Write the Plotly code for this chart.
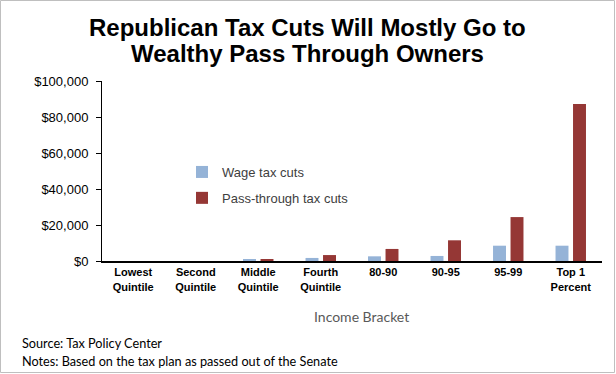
import plotly.graph_objects as go

categories = ["Lowest<br>Quintile", "Second<br>Quintile", "Middle<br>Quintile", "Fourth<br>Quintile",
              "80-90", "90-95", "95-99", "Top 1<br>Percent"]
wage_cuts = [0, 0, 900, 1700, 2600, 2800, 8500, 8500]
pass_through_cuts = [0, 0, 1100, 3300, 6700, 11500, 24400, 87200]
y_tickvals = [0, 20000, 40000, 60000, 80000, 100000]
y_ticktext = ["$0", "$20,000", "$40,000", "$60,000", "$80,000", "$100,000"]

W, H = 616, 374
L, R, T, B = 102, 14, 81, 113
pw, ph = W - L - R, H - T - B

def px_x(px):
    return (px - L) / pw

def px_y(py):
    return (H - B - py) / ph

fig = go.Figure()
fig.add_trace(go.Bar(x=categories, y=wage_cuts, name="Wage tax cuts", legendgroup="w",
                     marker=dict(color="#95B3D7", line=dict(width=0))))
fig.add_trace(go.Bar(x=categories, y=pass_through_cuts, name="Pass-through tax cuts", legendgroup="p",
                     marker=dict(color="#953735", line=dict(width=0))))

fig.update_layout(
    width=W, height=H,
    margin=dict(l=L, r=R, t=T, b=B),
    paper_bgcolor="white", plot_bgcolor="white",
    barmode="group", bargap=0.44, bargroupgap=0.26,
    showlegend=True,
    legend=dict(x=px_x(182), y=px_y(157), xanchor="left", yanchor="top",
                traceorder="grouped", tracegroupgap=6,
                font=dict(family="Liberation Sans", size=13, color="#404040"),
                bgcolor="rgba(0,0,0,0)"),
    xaxis=dict(tickvals=categories,
               ticktext=["<b>" + c + "</b>" for c in categories],
               tickfont=dict(family="Liberation Sans", size=11, color="black"),
               showline=True, linecolor="black", linewidth=2, ticks="",
               showgrid=False, zeroline=False, fixedrange=True),
    yaxis=dict(range=[0, 100000], tickvals=y_tickvals, ticktext=y_ticktext,
               tickfont=dict(family="Liberation Sans", size=13, color="black"),
               showline=True, linecolor="black", linewidth=1,
               ticks="outside", ticklen=5, tickcolor="black",
               ticklabelstandoff=5,
               showgrid=False, zeroline=False, fixedrange=True),
    font=dict(family="Liberation Sans"),
)

annos = [
    dict(text="<b>Republican Tax Cuts Will Mostly Go to</b>", x=px_x(307), y=px_y(28),
         font=dict(family="Liberation Sans", size=24, color="black")),
    dict(text="<b>Wealthy Pass Through Owners</b>", x=px_x(307), y=px_y(53.5),
         font=dict(family="Liberation Sans", size=24, color="black")),
    dict(text="Income Bracket", x=px_x(361), y=px_y(316),
         font=dict(family="Lato", size=14, color="#595959")),
]
for a in annos:
    fig.add_annotation(xref="paper", yref="paper", showarrow=False,
                       xanchor="center", yanchor="middle", **a)
for txt, py in [("Source: Tax Policy Center", 343),
                ("Notes: Based on the tax plan as passed out of the Senate", 361)]:
    fig.add_annotation(xref="paper", yref="paper", showarrow=False, text=txt,
                       x=px_x(20), y=px_y(py), xanchor="left", yanchor="middle",
                       font=dict(family="Lato", size=12.7, color="black"))

fig.add_shape(type="rect", xref="paper", yref="paper",
              x0=px_x(0.5), x1=px_x(614.5), y0=px_y(372.5), y1=px_y(0.5),
              line=dict(color="#BFBFBF", width=1), layer="below")

fig.write_html("out.html", config={"displayModeBar": False},
               post_script="document.body.style.margin='0';")
